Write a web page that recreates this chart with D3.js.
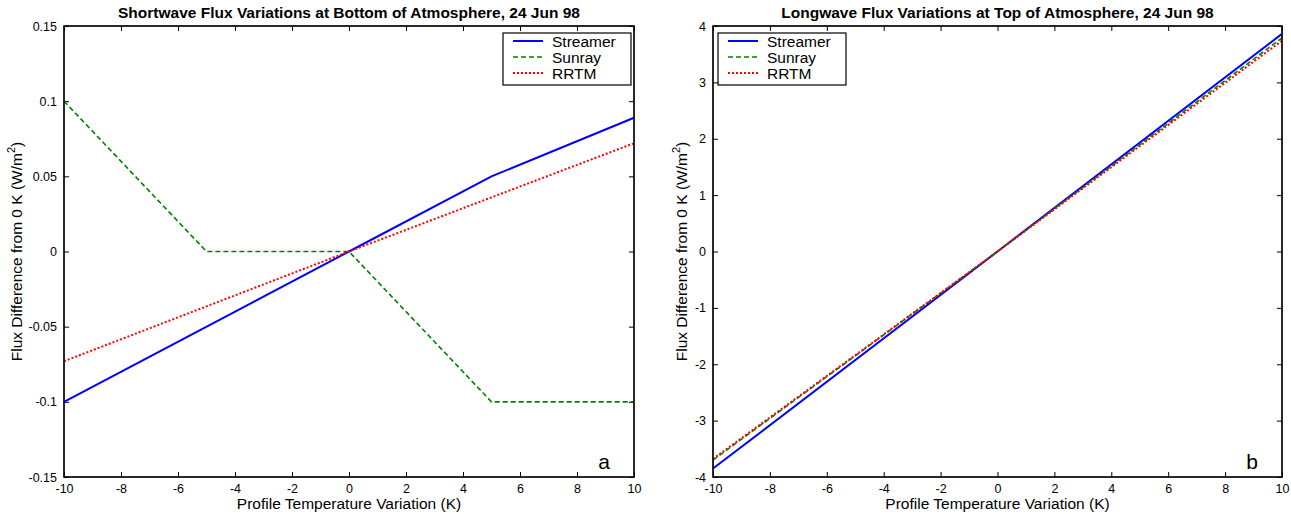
<!DOCTYPE html>
<html>
<head>
<meta charset="utf-8">
<script src="https://cdn.jsdelivr.net/npm/d3@7"></script>
<style>
body { margin: 0; background: #fff; }
text { font-family: "Liberation Sans", Arial, sans-serif; }
</style>
</head>
<body>
<div id="chart"></div>
<script>
const width = 1291;
const height = 514;

// x values for each series
const swTemps = [-10, 0, 5, 10];
const swStreamer = [-0.1, 0, 0.05, 0.089];
const swSunrayTemps = [-10, -5, 0, 5, 10];
const swSunray = [0.1, 0, 0, -0.1, -0.1];
const swRrtmTemps = [-10, 0, 10];
const swRrtm = [-0.073, 0, 0.072];

const lwTemps = [-10, 0, 10];
const lwStreamer = [-3.85, 0, 3.86];
const lwSunray = [-3.7, 0, 3.79];
const lwRrtm = [-3.68, 0, 3.74];

const xTicks = [-10, -8, -6, -4, -2, 0, 2, 4, 6, 8, 10];
const swYTicks = [-0.15, -0.1, -0.05, 0, 0.05, 0.1, 0.15];
const lwYTicks = [-4, -3, -2, -1, 0, 1, 2, 3, 4];
const legendNames = ["Streamer", "Sunray", "RRTM"];

const styles = [
    { color: "#0000ff", dash: null, w: 2 },
    { color: "#008000", dash: "5,3", w: 1.6 },
    { color: "#ff0000", dash: "2,2", w: 2 }
]

const svg = d3.select("#chart").append("svg")
    .attr("width", width)
    .attr("height", height)

// plain hyphen minus like matlab
const intFmt = d => String(d)
const swFmt = d => d === 0 ? "0" : String(+d.toFixed(2))

function panel(opts) {
    const { x0, x1, y0, y1 } = opts
    const g = svg.append("g")
    const x = d3.scaleLinear().domain([-10, 10]).range([x0, x1])
    const y = d3.scaleLinear().domain(opts.yDomain).range([y1, y0])

    // frame
    g.append("rect")
        .attr("x", x0).attr("y", y0)
        .attr("width", x1 - x0).attr("height", y1 - y0)
        .attr("fill", "#fff").attr("stroke", "#000").attr("stroke-width", 1.2)

    // ticks on all four sides, pointing in
    const bottom = g.append("g").attr("transform", `translate(0,${y1})`)
        .call(d3.axisBottom(x).tickValues(xTicks).tickSize(-5).tickPadding(8).tickFormat(intFmt))
    const top = g.append("g").attr("transform", `translate(0,${y0})`)
        .call(d3.axisTop(x).tickValues(xTicks).tickSize(-5).tickFormat(""))
    const left = g.append("g").attr("transform", `translate(${x0},0)`)
        .call(d3.axisLeft(y).tickValues(opts.yTicks).tickSize(-5).tickPadding(7).tickFormat(opts.fmt))
    const right = g.append("g").attr("transform", `translate(${x1},0)`)
        .call(d3.axisRight(y).tickValues(opts.yTicks).tickSize(-5).tickFormat(""))
    ;[bottom, top, left, right].forEach(a => {
        a.select(".domain").remove()
        a.selectAll("line").attr("stroke", "#000")
        a.selectAll("text").attr("font-size", 12.5).attr("fill", "#000")
            .style("font-family", "'Liberation Sans', Arial, sans-serif")
    })
    bottom.selectAll("text").attr("dy", "0.6em")

    // lines
    const line = d3.line().x(d => x(d[0])).y(d => y(d[1]))
    opts.series.forEach((s, i) => {
        const st = styles[i]
        g.append("path")
            .datum(d3.zip(s.t, s.v))
            .attr("d", line)
            .attr("fill", "none")
            .attr("stroke", st.color)
            .attr("stroke-width", st.w)
            .attr("stroke-dasharray", st.dash)
    })

    // redraw frame edges over lines
    g.append("rect")
        .attr("x", x0).attr("y", y0)
        .attr("width", x1 - x0).attr("height", y1 - y0)
        .attr("fill", "none").attr("stroke", "#000").attr("stroke-width", 1.2)

    // title
    g.append("text")
        .attr("x", (x0 + x1) / 2).attr("y", 18)
        .attr("text-anchor", "middle")
        .attr("font-size", 15.5).attr("font-weight", "bold")
        .text(opts.title)

    // x label
    g.append("text")
        .attr("x", (x0 + x1) / 2).attr("y", 509)
        .attr("text-anchor", "middle")
        .attr("font-size", 15.5)
        .text("Profile Temperature Variation (K)")

    // y label
    const yl = g.append("text")
        .attr("transform", `translate(${opts.ylx},${(y0 + y1) / 2}) rotate(-90)`)
        .attr("text-anchor", "middle")
        .attr("font-size", 15.5)
    yl.append("tspan").text("Flux Difference from 0 K (W/m")
    yl.append("tspan").attr("dy", -7).attr("font-size", 11).text("2")
    yl.append("tspan").attr("dy", 7).text(")")

    // panel letter
    g.append("text")
        .attr("x", x1 - 30).attr("y", y1 - 8)
        .attr("text-anchor", "middle")
        .attr("font-size", 21)
        .text(opts.letter)

    // legend
    const lg = g.append("g").attr("transform", `translate(${opts.legX},33)`)
    lg.append("rect")
        .attr("width", 128).attr("height", 52)
        .attr("fill", "#fff").attr("stroke", "#000").attr("stroke-width", 1.2)
    legendNames.forEach((name, i) => {
        const st = styles[i]
        const ly = 8 + i * 16
        lg.append("line")
            .attr("x1", 10).attr("x2", 40)
            .attr("y1", ly).attr("y2", ly)
            .attr("stroke", st.color)
            .attr("stroke-width", st.w)
            .attr("stroke-dasharray", st.dash)
        lg.append("text")
            .attr("x", 49).attr("y", ly + 5.5)
            .attr("font-size", 15.5)
            .text(name)
    })
}

panel({
    x0: 64, x1: 634, y0: 26, y1: 477,
    yDomain: [-0.15, 0.15], yTicks: swYTicks, fmt: swFmt,
    title: "Shortwave Flux Variations at Bottom of Atmosphere, 24 Jun 98",
    ylx: 22, letter: "a", legX: 503,
    series: [
        { t: swTemps, v: swStreamer },
        { t: swSunrayTemps, v: swSunray },
        { t: swRrtmTemps, v: swRrtm }
    ]
})

panel({
    x0: 713, x1: 1282, y0: 26, y1: 477,
    yDomain: [-4, 4], yTicks: lwYTicks, fmt: intFmt,
    title: "Longwave Flux Variations at Top of Atmosphere, 24 Jun 98",
    ylx: 687, letter: "b", legX: 718,
    series: [
        { t: lwTemps, v: lwStreamer },
        { t: lwTemps, v: lwSunray },
        { t: lwTemps, v: lwRrtm }
    ]
})
</script>
</body>
</html>
